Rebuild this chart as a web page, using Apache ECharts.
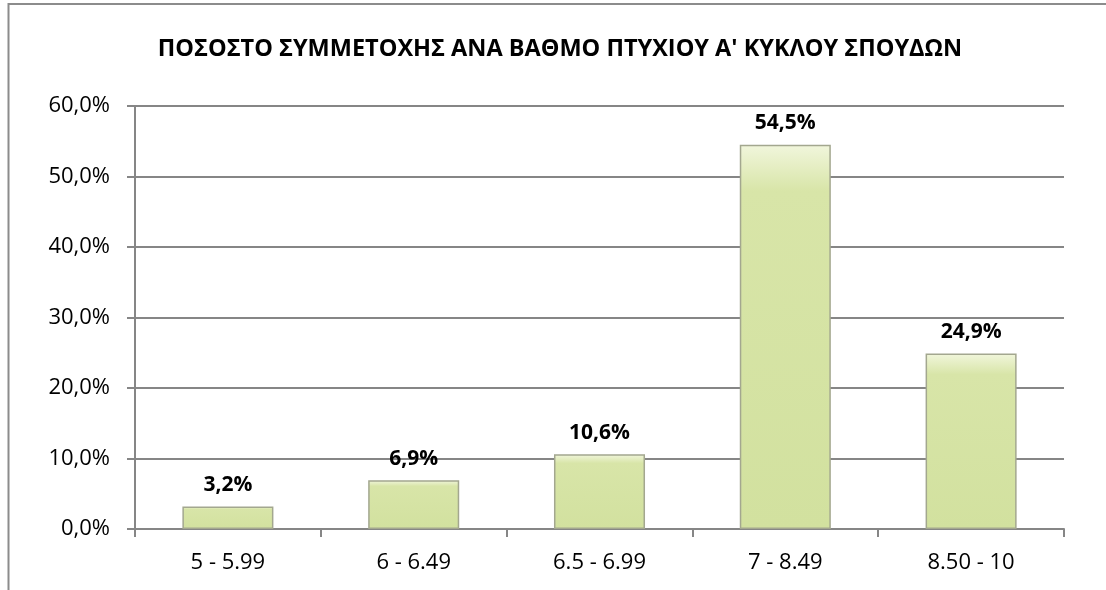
<!DOCTYPE html>
<html>
<head>
<meta charset="utf-8">
<script src="https://cdn.jsdelivr.net/npm/echarts@6/dist/echarts.min.js"></script>
<style>
  html, body { margin: 0; padding: 0; background: #fff; }
  #chart { width: 1106px; height: 590px; }
</style>
</head>
<body>
<div id="chart"></div>
<script>
// grade ranges and participation share (%)
var categories = ['5 - 5.99', '6 - 6.49', '6.5 - 6.99', '7 - 8.49', '8.50 - 10'];
var shares = [3.2, 6.9, 10.6, 54.5, 24.9];
var yTicks = [0, 10, 20, 30, 40, 50, 60];

var myChart = echarts.init(document.getElementById('chart'));

function pct(v) {
    return v.toFixed(1).replace('.', ',') + '%';
}

var option = {
    backgroundColor: '#fff',
    animation: false,
    title: {
        text: 'ΠΟΣΟΣΤΟ ΣΥΜΜΕΤΟΧΗΣ ΑΝΑ ΒΑΘΜΟ ΠΤΥΧΙΟΥ Α\' ΚΥΚΛΟΥ ΣΠΟΥΔΩΝ',
        left: 555,
        textAlign: 'center',
        top: 32,
        textStyle: {
            fontFamily: 'Open Sans',
            fontWeight: 'bold',
            fontSize: 23.5,
            color: '#000'
        }
    },
    // chart frame: top and left edges only are visible in the reference
    graphic: [{
        type: 'polyline',
        shape: { points: [[8.5, 590], [8.5, 4], [1106, 4]] },
        style: { fill: 'none', stroke: '#8c8c8c', lineWidth: 2 },
        silent: true
    }],
    grid: { left: 135, right: 42, top: 106, bottom: 61 },
    xAxis: {
        type: 'category',
        data: categories,
        axisLine: { lineStyle: { color: '#868686', width: 2 } },
        axisTick: { show: true, length: 8, lineStyle: { color: '#868686', width: 2 } },
        axisLabel: {
            color: '#000',
            fontFamily: 'Open Sans',
            fontSize: 22,
            margin: 23
        }
    },
    yAxis: {
        type: 'value',
        min: yTicks[0],
        max: yTicks[yTicks.length - 1],
        interval: 10,
        axisLine: { show: true, lineStyle: { color: '#868686', width: 2 } },
        axisTick: { show: true, length: 8, lineStyle: { color: '#868686', width: 2 } },
        splitLine: { lineStyle: { color: '#868686', width: 2 } },
        axisLabel: {
            color: '#000',
            fontFamily: 'Open Sans',
            fontSize: 22,
            margin: 25,
            formatter: function (v) { return pct(v); }
        }
    },
    series: [{
        type: 'bar',
        data: shares,
        barWidth: '49%',
        itemStyle: {
            color: new echarts.graphic.LinearGradient(0, 0, 0, 1, [
                { offset: 0, color: '#f1f6dc' },
                { offset: 0.12, color: '#d8e5a8' },
                { offset: 1, color: '#d2e19f' }
            ]),
            borderColor: '#a3a78f',
            borderWidth: 1.5
        },
        label: {
            show: true,
            position: 'top',
            distance: 11,
            color: '#000',
            fontFamily: 'Open Sans',
            fontWeight: 'bold',
            fontSize: 21,
            formatter: function (p) { return pct(p.value); }
        }
    }]
};

myChart.setOption(option);
</script>
</body>
</html>
